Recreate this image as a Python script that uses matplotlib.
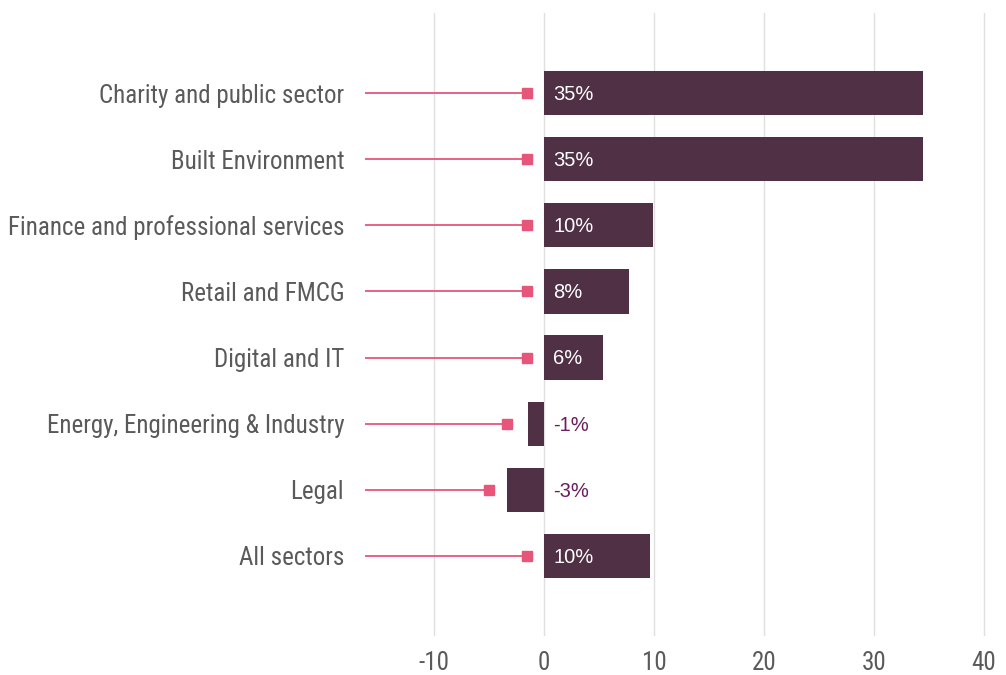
import matplotlib.pyplot as plt

# Data
sectors = ['Charity and public sector', 'Built Environment',
           'Finance and professional services', 'Retail and FMCG',
           'Digital and IT', 'Energy, Engineering & Industry', 'Legal',
           'All sectors']
bar_values = [34.5, 34.5, 9.9, 7.7, 5.4, -1.45, -3.4, 9.6]
value_labels = ['35%', '35%', '10%', '8%', '6%', '-1%', '-3%', '10%']
marker_values = [-1.55, -1.55, -1.55, -1.55, -1.55, -3.35, -5.0, -1.55]
x_ticks = [-10, 0, 10, 20, 30, 40]

bar_color = '#4f3044'
pink = '#e8557a'
purple = '#6b1d5f'
gray = '#5a5a5a'
cond = 'Roboto Condensed'

fig = plt.figure(figsize=(10.06, 6.75), dpi=100)
W, H = 1006, 675
ax = fig.add_axes([365 / W, (H - 636) / H, (W - 365) / W, (636 - 13) / H])

y = list(range(len(sectors)))
xmin, xmax = -16.27, 42.0

ax.barh(y, bar_values, height=0.67, color=bar_color, zorder=3)

for i in y:
    ax.plot([xmin, marker_values[i]], [i, i], color=pink, lw=1.3, zorder=2)
    ax.plot(marker_values[i], i, marker='s', ms=7, color=pink, zorder=4)
    col = 'white' if bar_values[i] > 0 else purple
    ax.text(0.85, i + 0.02, value_labels[i], color=col, va='center', ha='left',
            family='Liberation Sans', fontsize=14.5, zorder=5)

ax.set_xlim(xmin, xmax)
ax.set_ylim(len(sectors) - 1 + 1.21, -1.21)
ax.set_xticks(x_ticks)
ax.set_xticklabels([str(t) for t in x_ticks], family=cond, fontsize=18, color=gray)
ax.set_yticks(y)
ax.set_yticklabels(sectors, family=cond, fontsize=18, color=gray)
ax.tick_params(axis='y', length=0, pad=15)
ax.tick_params(axis='x', length=0, pad=11)
ax.grid(axis='x', color='#e0e0e0', lw=1, zorder=0)
for s in ax.spines.values():
    s.set_visible(False)

fig.savefig('out.png', dpi=100)
